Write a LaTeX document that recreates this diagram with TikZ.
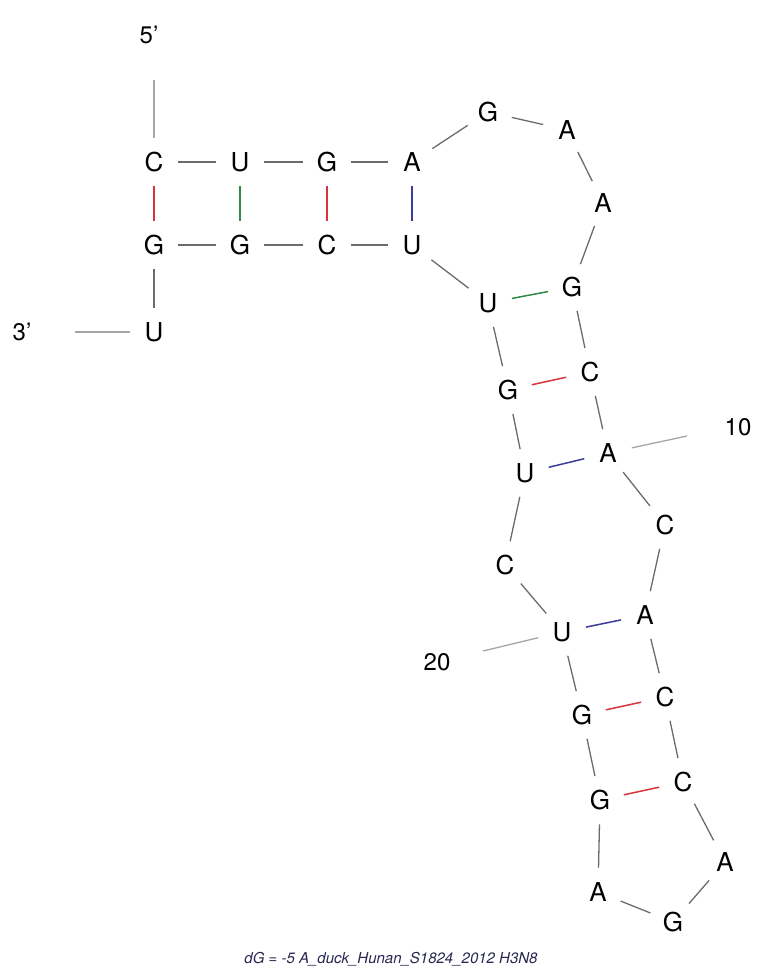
\documentclass[tikz,border=0pt]{standalone}
\usepackage{fontspec}
\setmainfont{TeX Gyre Heros}
\usepackage{tikz}
\definecolor{gcred}{HTML}{D8343E}
\definecolor{gugreen}{HTML}{2F8A45}
\definecolor{aublue}{HTML}{3C3C9C}
\definecolor{capnavy}{HTML}{262650}
\tikzset{
    base/.style={circle, minimum size=24pt, inner sep=0pt, font=\fontsize{13}{15}\selectfont},
    backbone/.style={draw=black!58, line width=0.65pt},
    tick/.style={draw=black!35, line width=0.65pt},
    gcpair/.style={draw=gcred, line width=0.75pt},
    gupair/.style={draw=gugreen, line width=0.75pt},
    aupair/.style={draw=aublue, line width=0.75pt},
    endlabel/.style={font=\fontsize{12}{14}\selectfont}
}

\begin{document}
\begin{tikzpicture}[x=0.5pt, y=-0.5pt]
    \useasboundingbox (0,0) rectangle (758,973);
    % bases
    \foreach \i/\x/\y/\b in {1/154/162/C, 2/240/162/U, 3/327/162/G, 4/412/162/A,
        5/488/112/G, 6/567/130/A, 7/603/203/A, 8/572/287/G, 9/590/372/C,
        10/608/453/A, 11/665/525/C, 12/645/615/A, 13/665/697/C, 14/683/782/C,
        15/725/862/A, 16/673/922/G, 17/598/892/A, 18/600/800/G, 19/582/715/G,
        20/562/632/U, 21/505/565/C, 22/525/473/U, 23/508/390/G, 24/488/303/U,
        25/412/245/U, 26/327/245/C, 27/240/245/G, 28/154/245/G, 29/154/332/U}
        \node[base] (n\i) at (\x,\y) {\b};
    % backbone
    \foreach \i [evaluate=\i as \j using int(\i+1)] in {1,...,28}
        \draw[backbone] (n\i) -- (n\j);
    % base pairs
    \foreach \p/\q/\s in {1/28/gcpair, 2/27/gupair, 3/26/gcpair, 4/25/aupair,
        8/24/gupair, 9/23/gcpair, 10/22/aupair, 12/20/aupair, 13/19/gcpair, 14/18/gcpair}
        \draw[\s] (n\p) -- (n\q);
    % ends and numbering
    \coordinate (five) at (154,80);
    \coordinate (three) at (75,332);
    \coordinate (t10) at (687,436);
    \coordinate (t20) at (483,651);
    \draw[tick] (five) -- (n1);
    \draw[tick] (three) -- (n29);
    \draw[tick] (n10) -- (t10);
    \draw[tick] (n20) -- (t20);
    \node[endlabel] (lab5) at (149,35) {5'};
    \node[endlabel] (lab3) at (22,332) {3'};
    \node[endlabel] (lab10) at (738,427) {10};
    \node[endlabel] (lab20) at (437,662) {20};
    % caption
    \node[font=\fontsize{7.5}{9}\selectfont\itshape, text=capnavy] (caption) at (391,959)
        {dG = -5 A\_duck\_Hunan\_S1824\_2012 H3N8};
\end{tikzpicture}
\end{document}
